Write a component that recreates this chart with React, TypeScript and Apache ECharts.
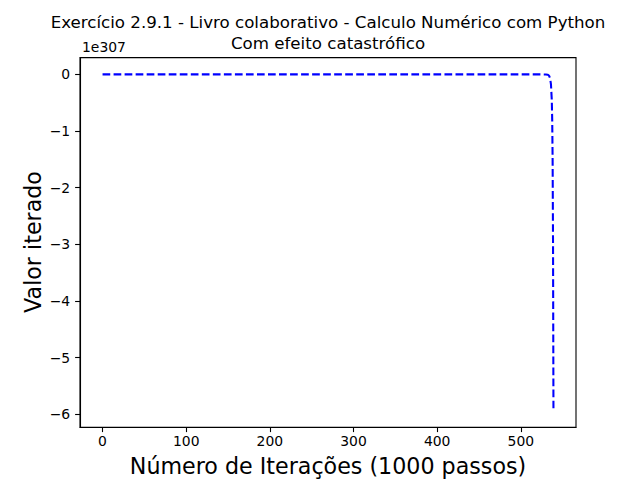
import React, { useEffect, useRef } from "react";
import * as echarts from "echarts";

// Data (x in thousands of steps, y raw values)
const xValues = [0, 100, 200, 300, 400, 500, 525, 530, 532, 533, 534, 535, 536, 537, 537.5, 538, 538.5, 539];
const yValues = [0, 0, 0, 0, 0, 0, 0, -0.001e307, -0.005e307, -0.012e307, -0.03e307, -0.07e307, -0.17e307, -0.45e307, -0.8e307, -1.5e307, -3.0e307, -5.93e307];
const xTicks = [0, 100, 200, 300, 400, 500];
const yTicks = [0, -1e307, -2e307, -3e307, -4e307, -5e307, -6e307];
const SCALE = 1e307;

const TITLE = "Exercício 2.9.1 - Livro colaborativo - Calculo Numérico com Python\nCom efeito catastrófico";
const X_LABEL = "Número de Iterações (1000 passos)";
const Y_LABEL = "Valor iterado";
const OFFSET_LABEL = "1e307";

const FONT = "DejaVu Sans";

export default function App() {
  const ref = useRef<HTMLDivElement>(null);
  useEffect(() => {
    if (!ref.current) return;
    const chart = echarts.init(ref.current, null, { renderer: "svg" });
    const data = xValues.map((x, i) => [x, yValues[i]]);
    const xMinD = Math.min(...xValues), xMaxD = Math.max(...xValues);
    const yMinD = Math.min(...yValues), yMaxD = Math.max(...yValues);
    const xr = xMaxD - xMinD, yr = yMaxD - yMinD;
    chart.setOption({
      animation: false,
      backgroundColor: "#fff",
      title: {
        text: TITLE,
        left: 328,
        textAlign: "center",
        top: 12,
        padding: 0,
        textStyle: { fontFamily: FONT, fontSize: 16.67, fontWeight: "normal", color: "#000", lineHeight: 21 },
      },
      grid: {
        left: 80, right: 64, top: 57.6, bottom: 52.8,
        show: true, borderColor: "#000", borderWidth: 1.1, backgroundColor: "transparent",
      },
      xAxis: {
        type: "value",
        min: xMinD - 0.05 * xr,
        max: xMaxD + 0.05 * xr,
        splitLine: { show: false },
        axisLine: { show: true, onZero: false, lineStyle: { color: "#000", width: 1.1 } },
        axisTick: { show: true, length: 4.9, customValues: xTicks, lineStyle: { color: "#000", width: 1.1 } },
        axisLabel: { customValues: xTicks, margin: 7, fontFamily: FONT, fontSize: 13.9, color: "#000", formatter: (v: number) => String(v) },
      },
      yAxis: {
        type: "value",
        min: yMinD - 0.05 * yr,
        max: yMaxD + 0.05 * yr,
        splitLine: { show: false },
        axisLine: { show: true, onZero: false, lineStyle: { color: "#000", width: 1.1 } },
        axisTick: { show: true, length: 4.9, customValues: yTicks, lineStyle: { color: "#000", width: 1.1 } },
        axisLabel: {
          customValues: yTicks, margin: 9.8, fontFamily: FONT, fontSize: 13.9, color: "#000",
          formatter: (v: number) => {
            const n = Math.round(v / SCALE);
            return n < 0 ? "\u2212" + Math.abs(n) : String(n);
          },
        },
      },
      graphic: [
        { type: "text", left: 82, top: 40, style: { text: OFFSET_LABEL, font: `13.9px '${FONT}'`, fill: "#000" } },
        { type: "text", x: 328, y: 466, style: { text: X_LABEL, font: `22.2px '${FONT}'`, fill: "#000", align: "center", verticalAlign: "middle" } },
        { type: "text", x: 33, y: 242, rotation: Math.PI / 2, style: { text: Y_LABEL, font: `22.2px '${FONT}'`, fill: "#000", align: "center", verticalAlign: "middle" } },
      ],
      series: [
        {
          type: "line",
          data,
          showSymbol: false,
          symbol: "none",
          lineStyle: { color: "#0000ff", width: 2.08, type: [7.7, 3.33] },
        },
      ],
    });
    return () => chart.dispose();
  }, []);
  return <div ref={ref} style={{ position: "fixed", left: 0, top: 0, width: 640, height: 480 }} />;
}
